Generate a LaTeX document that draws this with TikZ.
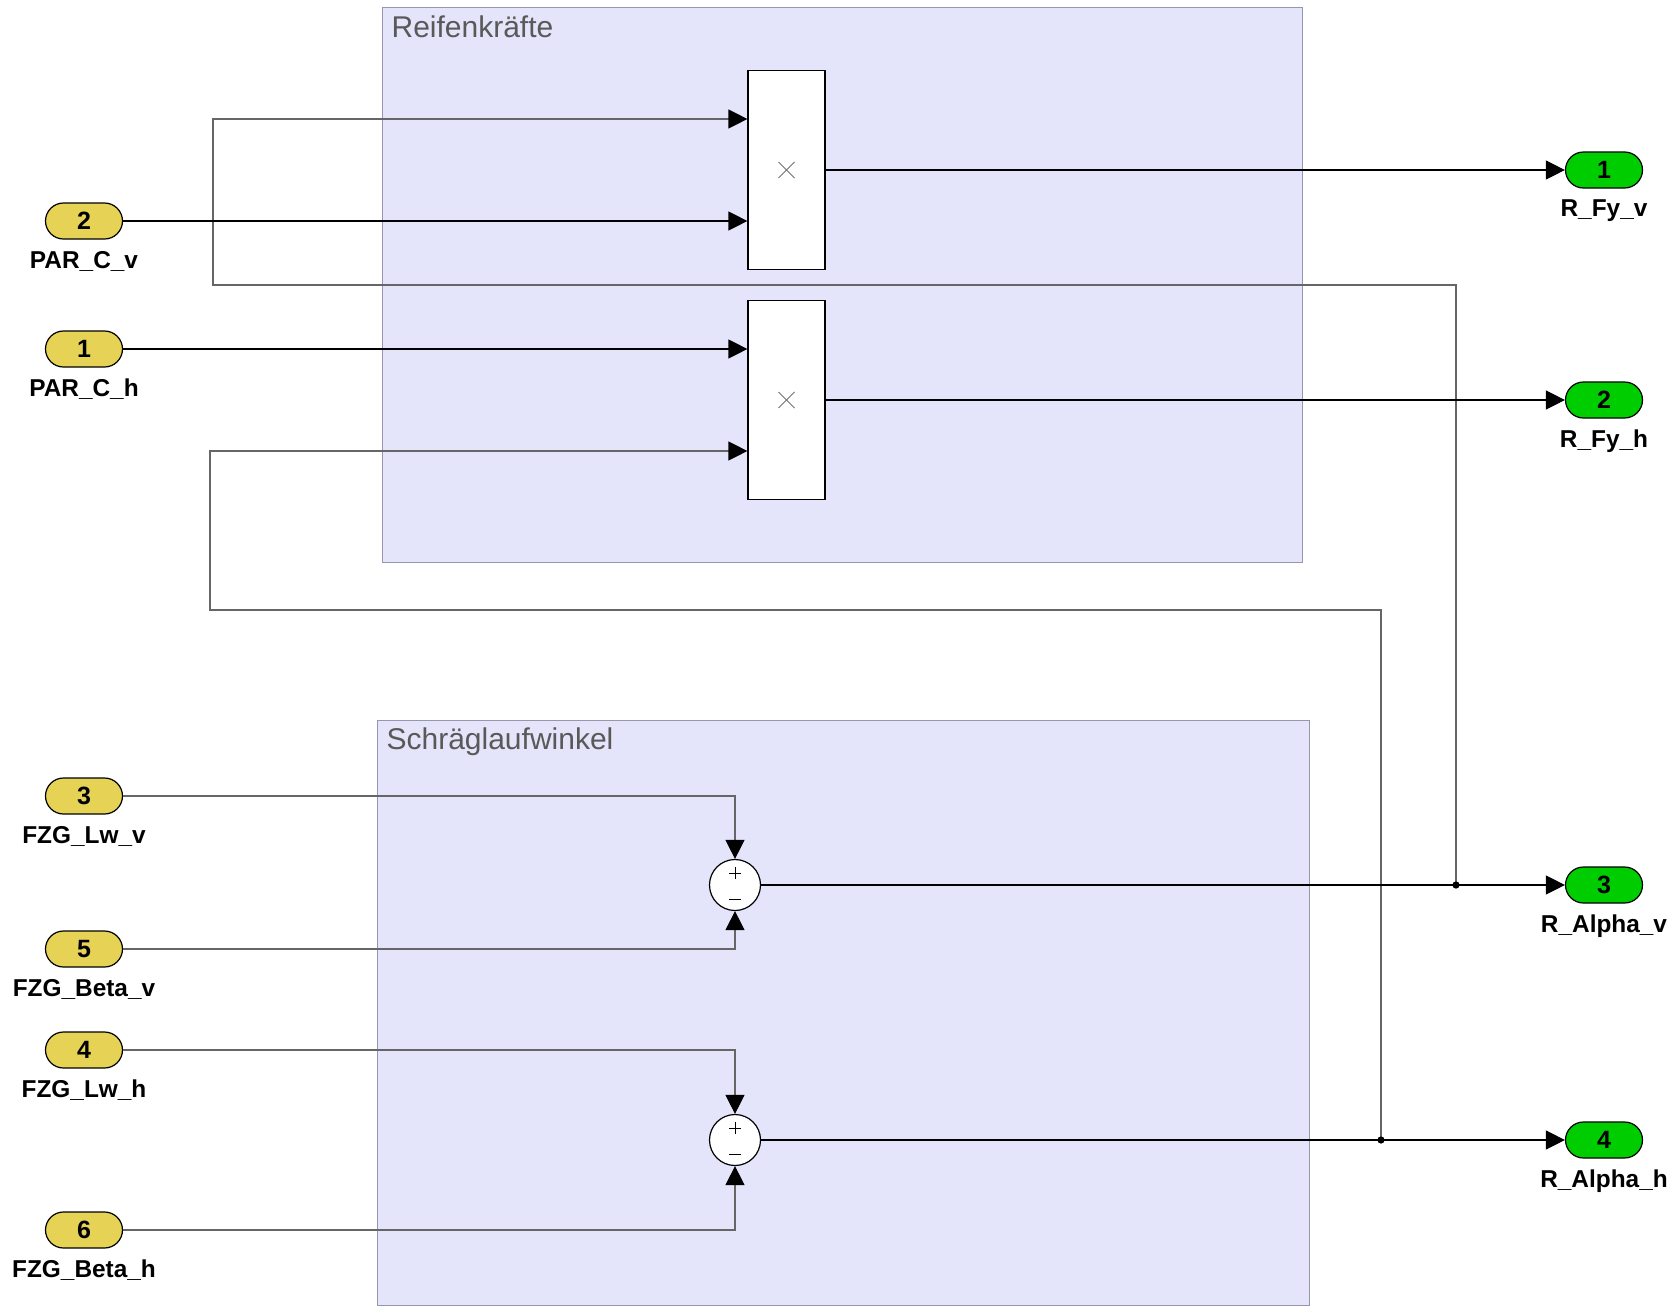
\documentclass[tikz,border=0pt]{standalone}
\usepackage{fontspec}
\setmainfont{Liberation Sans}
\usetikzlibrary{arrows.meta}
\tikzset{> = {Triangle[length=9.5pt,width=9.5pt,black]}}
\definecolor{inyellow}{RGB}{230,210,85}
\definecolor{outgreen}{RGB}{0,205,0}
\definecolor{areafill}{RGB}{228,228,250}
\definecolor{areadraw}{RGB}{150,150,175}

\begin{document}
\begin{tikzpicture}[x=0.5pt,y=-0.5pt,line width=0.6pt,
	port/.style={draw,rounded corners=9pt,minimum width=38.5pt,minimum height=18pt,inner sep=0,font=\bfseries\fontsize{12.5}{13}\selectfont},
	inport/.style={port,fill=inyellow},
	outport/.style={port,fill=outgreen},
	every label/.style={font=\bfseries\fontsize{12.2}{13}\selectfont,inner sep=0},
	label distance=5.5pt,
	area/.style={draw=areadraw,fill=areafill,line width=0.5pt},
	title/.style={anchor=base west,text=black!65,font=\fontsize{15}{16}\selectfont,inner sep=0},
	prod/.style={draw,fill=white,minimum width=38.5pt,minimum height=99.5pt,inner sep=0,
		path picture={\draw[black!55,line width=0.4pt] (path picture bounding box.center) +(-4pt,-4pt) -- +(4pt,4pt) +(-4pt,4pt) -- +(4pt,-4pt);}},
	sum/.style={circle,draw,fill=white,minimum size=25.5pt,inner sep=0,
		path picture={\draw[line width=0.4pt] (path picture bounding box.center) +(-3pt,6pt) -- +(3pt,6pt) +(0pt,3pt) -- +(0pt,9pt) +(-3pt,-7pt) -- +(3pt,-7pt);}},
	fb/.style={draw=black!60}]
	\useasboundingbox (0,0) rectangle (1677,1307);
	\draw[area] (382,7) rectangle (1302,562);
	\draw[area] (377,720) rectangle (1309,1305);
	\node[title] (T1) at (391,37) {Reifenkräfte};
	\node[title] (T2) at (386,749) {Schräglaufwinkel};
	\node[prod] (P1) at (786.5,170) {};
	\node[prod] (P2) at (786.5,400) {};
	\node[sum] (S1) at (735,885) {};
	\node[sum] (S2) at (735,1140) {};
	\node[inport,label=below:PAR\_C\_v] (In2) at (84,221) {2};
	\node[inport,label=below:PAR\_C\_h] (In1) at (84,349) {1};
	\node[inport,label=below:FZG\_Lw\_v] (In3) at (84,796) {3};
	\node[inport,label=below:FZG\_Beta\_v] (In5) at (84,949) {5};
	\node[inport,label=below:FZG\_Lw\_h] (In4) at (84,1050) {4};
	\node[inport,label=below:FZG\_Beta\_h] (In6) at (84,1230) {6};
	\node[outport,label=below:R\_Fy\_v] (Out1) at (1604,170) {1};
	\node[outport,label=below:R\_Fy\_h] (Out2) at (1604,400) {2};
	\node[outport,label=below:R\_Alpha\_v] (Out3) at (1604,885) {3};
	\node[outport,label=below:R\_Alpha\_h] (Out4) at (1604,1140) {4};
	\coordinate (Bv) at (213,285);
	\coordinate (Bh) at (210,610);
	\coordinate (Dv) at (1456,885);
	\coordinate (Dh) at (1381,1140);
	% slip angles are fed back to the tyre force products
	\draw[->,fb] (Dv) |- (Bv) |- ([yshift=25.5pt]P1.west);
	\draw[->,fb] (Dh) |- (Bh) |- ([yshift=-25.5pt]P2.west);
	\draw[->] (In2) -- (In2 -| P1.west);
	\draw[->] (In1) -- (In1 -| P2.west);
	\draw[->] (P1.east) -- (Out1);
	\draw[->] (P2.east) -- (Out2);
	\draw[->,fb] (In3) -| (S1.north);
	\draw[->,fb] (In5) -| (S1.south);
	\draw[->,fb] (In4) -| (S2.north);
	\draw[->,fb] (In6) -| (S2.south);
	\draw[->] (S1) -- (Out3);
	\draw[->] (S2) -- (Out4);
	\fill (Dv) circle (1.8pt) (Dh) circle (1.8pt);
\end{tikzpicture}
\end{document}
